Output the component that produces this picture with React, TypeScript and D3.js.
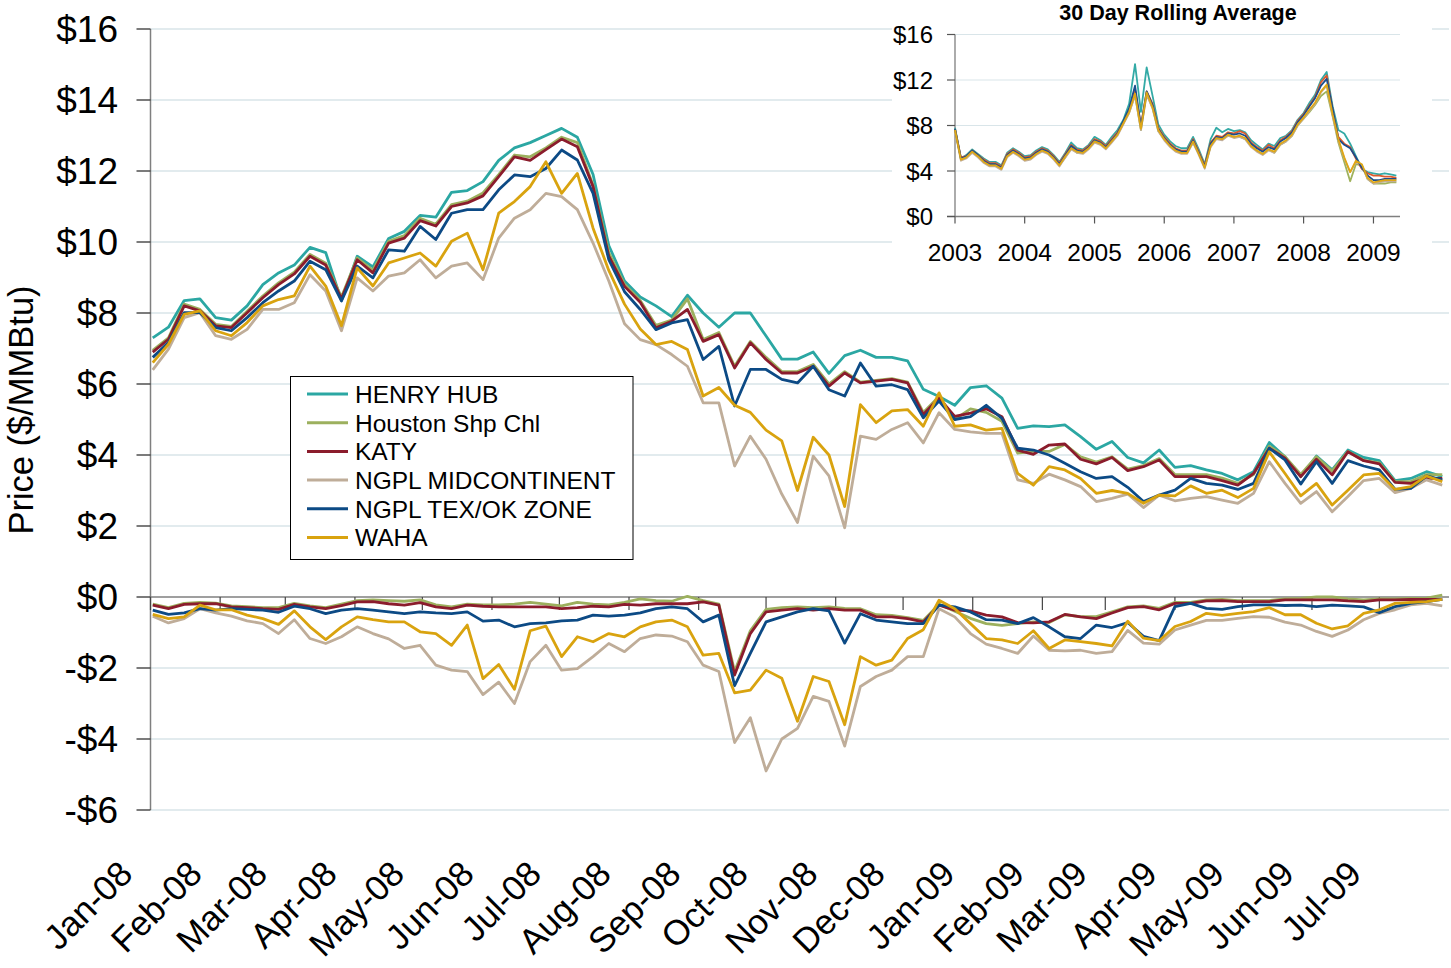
import * as d3 from 'd3';

// ---------- main chart data: weekly samples from Jan 2 2008 ----------
const weekStart = new Date(2008, 0, 2);
const weekCount = 83;

const henryHub = [
  7.3, 7.6, 8.35, 8.4, 7.87, 7.8, 8.2, 8.8, 9.13, 9.35,
  9.85, 9.7, 8.35, 9.6, 9.3, 10.1, 10.3, 10.75, 10.7, 11.4,
  11.45, 11.7, 12.3, 12.65, 12.8, 13.0, 13.2, 12.95, 11.9, 9.9,
  8.9, 8.45, 8.2, 7.9, 8.5, 8.0, 7.6, 8.0, 8.0, 7.35,
  6.7, 6.7, 6.9, 6.3, 6.8, 6.95, 6.75, 6.75, 6.65, 5.85,
  5.65, 5.4, 5.9, 5.95, 5.6, 4.75, 4.82, 4.8, 4.85, 4.52,
  4.16, 4.38, 3.93, 3.78, 4.14, 3.65, 3.7, 3.58, 3.48, 3.3,
  3.53, 4.35, 3.95, 3.39, 3.97, 3.58, 4.14, 3.93, 3.84, 3.28,
  3.34, 3.53, 3.39,
];
const houstonShip = [
  6.95, 7.3, 8.25, 8.1, 7.68, 7.62, 8.05, 8.48, 8.85, 9.15,
  9.65, 9.4, 8.45, 9.55, 9.2, 10.02, 10.18, 10.67, 10.5, 11.05,
  11.15, 11.38, 11.9, 12.45, 12.4, 12.65, 12.95, 12.8, 11.6, 9.7,
  8.8, 8.35, 7.65, 7.8, 8.4, 7.25, 7.45, 6.5, 7.2, 6.75,
  6.35, 6.35, 6.55, 6.0, 6.35, 6.05, 6.1, 6.15, 6.05, 5.2,
  5.65, 5.0, 5.3, 5.2, 4.95, 4.05, 4.1, 4.1, 4.3, 3.95,
  3.8, 3.95, 3.6, 3.7, 3.9, 3.45, 3.45, 3.45, 3.35, 3.2,
  3.45, 4.25, 3.95, 3.45, 3.95, 3.55, 4.1, 3.85, 3.78, 3.25,
  3.25, 3.45, 3.45,
];
const katy = [
  6.9, 7.26, 8.2, 8.06, 7.64, 7.59, 8.01, 8.43, 8.8, 9.1,
  9.6, 9.35, 8.4, 9.5, 9.13, 9.97, 10.11, 10.6, 10.45, 11.0,
  11.1, 11.3, 11.84, 12.4, 12.3, 12.6, 12.9, 12.68, 11.56, 9.6,
  8.75, 8.3, 7.58, 7.77, 8.1, 7.2, 7.39, 6.45, 7.16, 6.69,
  6.31, 6.31, 6.5, 5.94, 6.31, 6.03, 6.08, 6.13, 6.03, 5.14,
  5.61, 5.09, 5.18, 5.3, 5.08, 4.14, 4.02, 4.28, 4.31, 3.88,
  3.75, 3.93, 3.56, 3.67, 3.86, 3.39, 3.39, 3.39, 3.28, 3.15,
  3.48, 4.19, 3.91, 3.39, 3.88, 3.44, 4.09, 3.84, 3.75, 3.23,
  3.2, 3.34, 3.34,
];
const ngplMid = [
  6.4, 6.98, 7.87, 8.01, 7.36, 7.26, 7.54, 8.1, 8.1, 8.29,
  9.08, 8.62, 7.5, 8.99, 8.62, 9.04, 9.13, 9.5, 8.99, 9.32,
  9.41, 8.94, 10.11, 10.67, 10.91, 11.37, 11.28, 10.91, 9.97, 8.9,
  7.7, 7.25, 7.11, 6.83, 6.5, 5.47, 5.47, 3.69, 4.53, 3.88,
  2.9, 2.1, 3.97, 3.41, 1.95, 4.53, 4.44, 4.72, 4.91, 4.34,
  5.19, 4.72, 4.65, 4.61, 4.61, 3.3, 3.2, 3.46, 3.3, 3.11,
  2.69, 2.78, 2.9, 2.52, 2.87, 2.71, 2.78, 2.83, 2.73, 2.64,
  2.92, 3.81, 3.2, 2.64, 2.97, 2.4, 2.83, 3.28, 3.34, 2.94,
  3.06, 3.3, 3.15,
];
const ngplTexOk = [
  6.75, 7.17, 8.01, 8.01, 7.59, 7.5, 7.87, 8.29, 8.62, 8.9,
  9.46, 9.22, 8.34, 9.32, 8.99, 9.78, 9.74, 10.44, 10.07, 10.81,
  10.91, 10.91, 11.47, 11.89, 11.84, 12.07, 12.59, 12.31, 11.37, 9.5,
  8.6, 8.1, 7.53, 7.72, 7.81, 6.69, 7.06, 5.38, 6.41, 6.41,
  6.13, 6.03, 6.5, 5.84, 5.66, 6.59, 5.94, 5.98, 5.84, 5.05,
  5.52, 5.0, 5.08, 5.4, 5.03, 4.19, 4.14, 4.0, 3.77, 3.53,
  3.34, 3.39, 3.09, 2.69, 2.87, 3.01, 3.34, 3.2, 3.15, 3.03,
  3.2, 4.19, 3.86, 3.18, 3.81, 3.2, 3.84, 3.69, 3.58, 3.03,
  3.06, 3.41, 3.3,
];
const waha = [
  6.6, 7.12, 7.96, 8.06, 7.5, 7.36, 7.73, 8.2, 8.38, 8.48,
  9.32, 8.76, 7.64, 9.27, 8.76, 9.41, 9.55, 9.69, 9.32, 10.02,
  10.25, 9.22, 10.81, 11.14, 11.56, 12.26, 11.37, 11.93, 10.39, 9.2,
  8.25, 7.55, 7.11, 7.2, 6.97, 5.66, 5.9, 5.4, 5.2, 4.7,
  4.4, 3.0, 4.5, 4.0, 2.55, 5.42, 4.91, 5.24, 5.28, 4.81,
  5.75, 4.81, 4.85, 4.7, 4.75, 3.48, 3.15, 3.67, 3.58, 3.34,
  2.92, 3.0, 2.92, 2.64, 2.87, 2.85, 3.13, 2.92, 3.01, 2.8,
  3.06, 4.09, 3.48, 2.85, 3.2, 2.59, 3.01, 3.44, 3.48, 3.03,
  3.11, 3.41, 3.25,
];

// basis to Henry Hub (lower panel)
const houstonBasis = [
  -0.2, -0.3, -0.18, -0.15, -0.17, -0.25, -0.27, -0.3, -0.3, -0.18,
  -0.25, -0.3, -0.2, -0.1, -0.08, -0.1, -0.12, -0.08, -0.22, -0.28,
  -0.2, -0.22, -0.22, -0.2, -0.15, -0.2, -0.25, -0.15, -0.2, -0.22,
  -0.15, -0.05, -0.1, -0.12, 0.02, -0.1, -0.2, -2.1, -0.95, -0.35,
  -0.3, -0.28, -0.3, -0.28, -0.32, -0.33, -0.5, -0.52, -0.58, -0.66,
  -0.2, -0.4, -0.6, -0.75, -0.8, -0.75, -0.7, -0.72, -0.5, -0.55,
  -0.55, -0.42, -0.28, -0.25, -0.32, -0.15, -0.15, -0.08, -0.07, -0.1,
  -0.1, -0.1, -0.05, -0.04, 0.0, 0.0, -0.05, -0.08, -0.05, -0.05,
  -0.04, -0.03, 0.05,
];
const katyBasis = [
  -0.23, -0.33, -0.21, -0.19, -0.19, -0.28, -0.3, -0.33, -0.35, -0.21,
  -0.28, -0.33, -0.24, -0.14, -0.13, -0.19, -0.23, -0.16, -0.28, -0.33,
  -0.23, -0.26, -0.28, -0.28, -0.28, -0.28, -0.33, -0.3, -0.26, -0.28,
  -0.21, -0.23, -0.19, -0.19, -0.19, -0.14, -0.23, -2.2, -1.03, -0.42,
  -0.37, -0.33, -0.37, -0.33, -0.37, -0.37, -0.56, -0.56, -0.61, -0.7,
  -0.23, -0.37, -0.39, -0.51, -0.56, -0.72, -0.73, -0.7, -0.49, -0.56,
  -0.61, -0.45, -0.3, -0.27, -0.36, -0.18, -0.18, -0.11, -0.1, -0.13,
  -0.13, -0.13, -0.08, -0.08, -0.08, -0.08, -0.11, -0.13, -0.08, -0.08,
  -0.07, -0.07, -0.07,
];
const ngplMidBasis = [
  -0.54, -0.73, -0.61, -0.33, -0.45, -0.54, -0.67, -0.75, -1.03, -0.64,
  -1.17, -1.31, -1.12, -0.84, -1.03, -1.18, -1.45, -1.36, -1.92, -2.06,
  -2.1, -2.75, -2.4, -3.0, -1.82, -1.36, -2.06, -2.02, -1.68, -1.31,
  -1.54, -1.17, -1.07, -1.1, -1.26, -1.92, -2.1, -4.1, -3.4, -4.9,
  -4.0, -3.7, -2.8, -2.94, -4.2, -2.52, -2.24, -2.06, -1.68, -1.68,
  -0.33, -0.56, -1.03, -1.33, -1.45, -1.59, -1.1, -1.5, -1.52, -1.5,
  -1.59, -1.54, -0.94, -1.3, -1.33, -0.93, -0.79, -0.66, -0.66, -0.6,
  -0.55, -0.57, -0.71, -0.79, -0.97, -1.11, -0.93, -0.64, -0.46, -0.36,
  -0.22, -0.18, -0.25,
];
const ngplTexOkBasis = [
  -0.37, -0.49, -0.45, -0.33, -0.37, -0.33, -0.35, -0.37, -0.43, -0.26,
  -0.33, -0.47, -0.37, -0.33, -0.37, -0.42, -0.47, -0.42, -0.45, -0.47,
  -0.42, -0.68, -0.65, -0.84, -0.75, -0.73, -0.67, -0.65, -0.51, -0.54,
  -0.51, -0.45, -0.33, -0.28, -0.33, -0.7, -0.51, -2.5, -1.59, -0.7,
  -0.56, -0.42, -0.33, -0.39, -1.3, -0.47, -0.65, -0.7, -0.75, -0.75,
  -0.23, -0.28, -0.42, -0.64, -0.65, -0.75, -0.58, -0.84, -1.12, -1.17,
  -0.79, -0.86, -0.72, -1.11, -1.23, -0.27, -0.18, -0.32, -0.35, -0.27,
  -0.22, -0.22, -0.24, -0.23, -0.27, -0.23, -0.25, -0.28, -0.44, -0.27,
  -0.18, -0.13, -0.07,
];
const wahaBasis = [
  -0.49, -0.61, -0.56, -0.23, -0.36, -0.36, -0.51, -0.61, -0.77, -0.39,
  -0.84, -1.2, -0.84, -0.56, -0.64, -0.7, -0.7, -0.98, -1.03, -1.36,
  -0.79, -2.3, -1.9, -2.6, -0.95, -0.82, -1.68, -1.12, -1.26, -1.03,
  -1.12, -0.84, -0.7, -0.65, -0.84, -1.64, -1.59, -2.7, -2.62, -2.06,
  -2.29, -3.5, -2.24, -2.38, -3.6, -1.68, -1.92, -1.78, -1.17, -0.92,
  -0.09, -0.33, -0.75, -1.17, -1.21, -1.31, -0.95, -1.45, -1.21, -1.26,
  -1.31, -1.38, -0.68, -1.16, -1.23, -0.83, -0.69, -0.46, -0.52, -0.46,
  -0.41, -0.3, -0.5, -0.5, -0.74, -0.9, -0.81, -0.46, -0.36, -0.18,
  -0.15, -0.13, -0.07,
];

// ---------- inset: 30 day rolling average, monthly Jan 2003 .. May 2009 ----------
const avgHenryHub = [
  7.8, 5.1, 5.4, 5.9, 5.5, 5.1, 4.8, 4.8, 4.5, 5.6, 6.0, 5.7,
  5.3, 5.4, 5.8, 6.1, 5.9, 5.4, 4.8, 5.6, 6.5, 6.0, 5.9, 6.3,
  7.0, 6.7, 6.3, 7.0, 7.6, 8.5, 9.9, 13.4, 9.2, 13.1, 10.6, 8.1,
  7.2, 6.6, 6.2, 6.0, 6.0, 7.0, 5.9, 4.6, 6.8, 7.8, 7.4, 7.7,
  7.5, 7.6, 7.4, 6.7, 6.3, 5.9, 6.4, 6.2, 6.9, 7.1, 7.6, 8.5,
  9.1, 10.0, 10.7, 12.0, 12.7, 9.7, 7.6, 7.3, 6.4, 5.3, 4.2, 3.9,
  3.8, 3.7, 3.8, 3.7, 3.6,
];
const avgHoustonShip = [
  7.6, 5.0, 5.2, 5.7, 5.3, 4.8, 4.5, 4.5, 4.2, 5.3, 5.7, 5.4,
  5.0, 5.1, 5.5, 5.8, 5.6, 5.1, 4.5, 5.2, 6.0, 5.6, 5.6, 6.0,
  6.6, 6.4, 6.0, 6.6, 7.2, 8.2, 9.1, 10.7, 7.6, 10.8, 9.5, 7.5,
  6.8, 6.2, 5.8, 5.6, 5.6, 6.5, 5.5, 4.3, 6.2, 6.9, 6.8, 7.1,
  7.0, 7.0, 6.8, 6.2, 5.8, 5.5, 5.9, 5.6, 6.3, 6.6, 7.1, 8.0,
  8.6, 9.2, 9.8, 10.6, 11.0, 8.8, 6.5, 4.8, 3.1, 4.6, 4.5, 3.3,
  2.9, 2.9, 2.9, 3.0, 3.0,
];
const avgKaty = [
  7.7, 5.2, 5.3, 5.8, 5.4, 5.0, 4.7, 4.7, 4.4, 5.5, 5.9, 5.6,
  5.2, 5.3, 5.7, 6.0, 5.8, 5.3, 4.7, 5.5, 6.3, 5.9, 5.8, 6.2,
  6.8, 6.6, 6.2, 6.8, 7.4, 8.3, 9.4, 11.2, 8.0, 11.0, 9.9, 7.8,
  7.0, 6.4, 6.0, 5.8, 5.8, 6.8, 5.7, 4.5, 6.5, 7.1, 7.0, 7.4,
  7.3, 7.5, 7.3, 6.5, 6.1, 5.8, 6.3, 6.0, 6.7, 7.0, 7.5, 8.4,
  9.0, 9.8, 10.5, 11.8, 12.4, 9.4, 7.0, 6.4, 6.1, 5.1, 4.2, 3.8,
  3.6, 3.6, 3.5, 3.5, 3.4,
];
const avgNgplMid = [
  7.5, 4.9, 5.1, 5.6, 5.2, 4.7, 4.4, 4.4, 4.1, 5.2, 5.6, 5.3,
  4.9, 5.0, 5.4, 5.7, 5.5, 5.0, 4.4, 5.2, 5.9, 5.6, 5.5, 5.9,
  6.5, 6.3, 5.9, 6.5, 7.1, 8.1, 9.1, 10.6, 7.6, 10.7, 9.5, 7.5,
  6.7, 6.1, 5.7, 5.5, 5.5, 6.5, 5.4, 4.2, 6.1, 6.8, 6.7, 7.1,
  6.9, 7.0, 6.8, 6.1, 5.7, 5.4, 5.8, 5.6, 6.3, 6.6, 7.1, 8.0,
  8.6, 9.3, 9.9, 10.9, 11.5, 8.9, 6.7, 5.1, 3.9, 4.8, 4.5, 3.3,
  2.9, 3.0, 3.1, 3.1, 3.1,
];
const avgNgplTexOk = [
  7.7, 5.1, 5.3, 5.8, 5.4, 4.9, 4.6, 4.6, 4.3, 5.4, 5.8, 5.5,
  5.1, 5.2, 5.6, 5.9, 5.7, 5.2, 4.6, 5.4, 6.2, 5.8, 5.7, 6.1,
  6.7, 6.5, 6.1, 6.7, 7.3, 8.4, 9.5, 11.5, 7.9, 11.0, 9.8, 7.7,
  6.9, 6.3, 5.9, 5.7, 5.7, 6.7, 5.6, 4.4, 6.4, 7.0, 6.9, 7.3,
  7.2, 7.3, 7.1, 6.4, 6.0, 5.7, 6.1, 5.9, 6.6, 6.9, 7.4, 8.3,
  8.9, 9.7, 10.4, 11.5, 12.1, 9.5, 6.8, 6.3, 6.0, 5.2, 4.3, 3.6,
  3.2, 3.2, 3.3, 3.3, 3.3,
];
const avgWaha = [
  7.6, 5.0, 5.2, 5.7, 5.3, 4.8, 4.5, 4.5, 4.2, 5.3, 5.7, 5.4,
  5.0, 5.1, 5.5, 5.8, 5.6, 5.1, 4.5, 5.3, 6.0, 5.7, 5.6, 6.0,
  6.6, 6.4, 6.0, 6.6, 7.2, 8.2, 9.2, 10.8, 7.7, 10.9, 9.6, 7.6,
  6.8, 6.2, 5.8, 5.6, 5.6, 6.6, 5.5, 4.3, 6.2, 6.9, 6.8, 7.2,
  7.0, 7.1, 6.9, 6.2, 5.8, 5.5, 5.9, 5.7, 6.4, 6.7, 7.2, 8.1,
  8.7, 9.4, 10.0, 11.0, 11.6, 9.0, 6.8, 5.2, 3.9, 4.9, 4.6, 3.4,
  3.0, 3.1, 3.2, 3.2, 3.2,
];

const seriesNames = [
  'HENRY HUB',
  'Houston Shp Chl',
  'KATY',
  'NGPL MIDCONTINENT',
  'NGPL TEX/OK ZONE',
  'WAHA',
];
const seriesColors = ['#2ba7a3', '#9cb05e', '#8b1c2c', '#bfad99', '#0c4a85', '#d9a30f'];
const insetColors = ['#33aaa6', '#9fb25c', '#dc5a2e', '#c2ae98', '#1c4d8c', '#dfa715'];

const priceSeries = [henryHub, houstonShip, katy, ngplMid, ngplTexOk, waha];
const basisSeries = [null, houstonBasis, katyBasis, ngplMidBasis, ngplTexOkBasis, wahaBasis];
const avgSeries = [avgHenryHub, avgHoustonShip, avgKaty, avgNgplMid, avgNgplTexOk, avgWaha];

const yTicks = [-6, -4, -2, 0, 2, 4, 6, 8, 10, 12, 14, 16];
const insetTicks = [0, 4, 8, 12, 16];
const insetYears = [2003, 2004, 2005, 2006, 2007, 2008, 2009];

const FONT = '"Liberation Sans", Arial, Helvetica, sans-serif';
const GRID = '#d9e5e9';
const AXIS = '#7f7f7f';

const dollar = (v: number) => (v < 0 ? `-$${Math.abs(v)}` : `$${v}`);

export default function App() {
  const W = 1451;
  const H = 968;

  // main scales
  const x = d3
    .scaleTime()
    .domain([new Date(2008, 0, 1), new Date(2009, 7, 1)])
    .range([150.5, 1449]);
  const y = d3.scaleLinear().domain([-6, 16]).range([810, 29]);
  const weekDates = d3.range(weekCount).map((i) => d3.timeDay.offset(weekStart, i * 7));
  const months = d3.timeMonth.range(new Date(2008, 0, 1), new Date(2009, 7, 1));
  const fmtMonth = d3.timeFormat('%b-%y');

  const line = d3
    .line<number>()
    .x((_, i) => x(weekDates[i]))
    .y((d) => y(d));

  // inset scales
  const ix = d3
    .scaleTime()
    .domain([new Date(2003, 0, 1), new Date(2009, 4, 20)])
    .range([955, 1400]);
  const iy = d3.scaleLinear().domain([0, 16]).range([216.5, 34.5]);
  const insetMonths = d3.timeMonth.range(new Date(2003, 0, 1), new Date(2009, 5, 1));
  const insetLine = d3
    .line<number>()
    .x((_, i) => ix(insetMonths[i]))
    .y((d) => iy(d));

  const x0 = x.range()[0];
  const x1 = x.range()[1];

  return (
    <svg
      width={W}
      height={H}
      style={{ position: 'absolute', left: 0, top: 0, background: '#fff' }}
      fontFamily={FONT}
    >
      {/* gridlines */}
      {yTicks
        .filter((t) => t !== 0)
        .map((t) => (
          <line key={`g${t}`} x1={x0} x2={x1} y1={y(t)} y2={y(t)} stroke={GRID} strokeWidth={1.6} />
        ))}

      {/* y axis */}
      <line x1={x0} x2={x0} y1={y(16)} y2={y(-6)} stroke={AXIS} strokeWidth={1.5} />
      {yTicks.map((t) => (
        <g key={`yt${t}`}>
          <line x1={x0 - 14} x2={x0} y1={y(t)} y2={y(t)} stroke="#333" strokeWidth={1.3} />
          <text x={118} y={y(t)} dy="0.36em" textAnchor="end" fontSize={37} fill="#000">
            {dollar(t)}
          </text>
        </g>
      ))}
      <text
        transform="translate(33,410) rotate(-90)"
        textAnchor="middle"
        fontSize={34.5}
        fill="#000"
      >
        Price ($/MMBtu)
      </text>

      {/* x axis on the zero line */}
      <line x1={x0} x2={x1} y1={y(0)} y2={y(0)} stroke={AXIS} strokeWidth={1.5} />
      {months.map((m) => (
        <g key={m.toISOString()}>
          <line x1={x(m)} x2={x(m)} y1={y(0)} y2={y(0) + 13} stroke="#444" strokeWidth={1.2} />
          <text
            transform={`translate(${x(m) - 16},876) rotate(-45)`}
            textAnchor="end"
            fontSize={35}
            fill="#000"
          >
            {fmtMonth(m)}
          </text>
        </g>
      ))}

      {/* basis lines */}
      {basisSeries.map((s, k) =>
        s ? (
          <path
            key={`b${k}`}
            d={line(s) ?? ''}
            fill="none"
            stroke={seriesColors[k]}
            strokeWidth={2.8}
            strokeLinejoin="round"
          />
        ) : null,
      )}

      {/* price lines */}
      {priceSeries.map((s, k) => (
        <path
          key={`p${k}`}
          d={line(s) ?? ''}
          fill="none"
          stroke={seriesColors[k]}
          strokeWidth={2.8}
          strokeLinejoin="round"
        />
      ))}

      {/* inset */}
      <rect x={892} y={0} width={540} height={268} fill="#fff" />
      <text x={1178} y={20} textAnchor="middle" fontSize={21.5} fontWeight="bold" fill="#000">
        30 Day Rolling Average
      </text>
      {insetTicks
        .filter((t) => t !== 0)
        .map((t) => (
          <line key={`ig${t}`} x1={955} x2={1400} y1={iy(t)} y2={iy(t)} stroke={GRID} strokeWidth={1.2} />
        ))}
      <line x1={955} x2={955} y1={iy(16)} y2={iy(0)} stroke={AXIS} strokeWidth={1.3} />
      <line x1={947} x2={1400} y1={iy(0)} y2={iy(0)} stroke={AXIS} strokeWidth={1.3} />
      {insetTicks.map((t) => (
        <g key={`it${t}`}>
          <line x1={947} x2={955} y1={iy(t)} y2={iy(t)} stroke="#555" strokeWidth={1.2} />
          <text x={933} y={iy(t)} dy="0.36em" textAnchor="end" fontSize={24} fill="#000">
            {dollar(t)}
          </text>
        </g>
      ))}
      {insetYears.map((yr) => {
        const px = ix(new Date(yr, 0, 1));
        return (
          <g key={`iy${yr}`}>
            <line x1={px} x2={px} y1={iy(0)} y2={iy(0) + 7} stroke="#555" strokeWidth={1.2} />
            <text x={px} y={261} textAnchor="middle" fontSize={24.5} fill="#000">
              {yr}
            </text>
          </g>
        );
      })}
      {avgSeries.map((s, k) => (
        <path
          key={`a${k}`}
          d={insetLine(s) ?? ''}
          fill="none"
          stroke={insetColors[k]}
          strokeWidth={1.8}
          strokeLinejoin="round"
        />
      ))}

      {/* legend */}
      <rect x={290.5} y={376.5} width={342.5} height={183} fill="#fff" stroke="#000" strokeWidth={1} />
      {seriesNames.map((name, k) => {
        const cy = 394 + k * 28.7;
        return (
          <g key={name}>
            <line x1={307} x2={348} y1={cy} y2={cy} stroke={seriesColors[k]} strokeWidth={3} />
            <text x={355} y={cy} dy="0.36em" fontSize={24.5} fill="#000">
              {name}
            </text>
          </g>
        );
      })}
    </svg>
  );
}
